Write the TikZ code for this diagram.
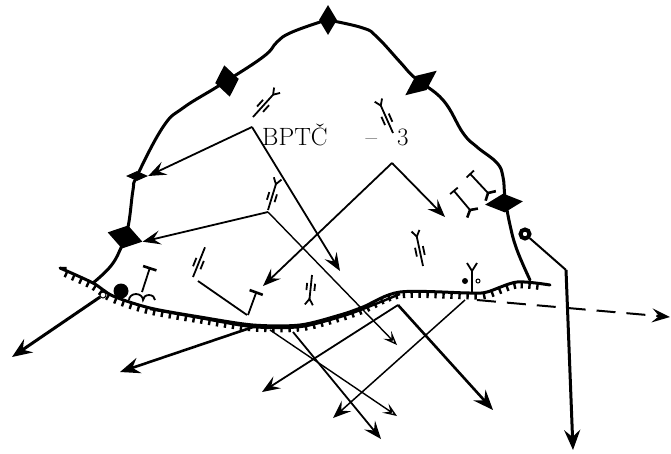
\documentclass[tikz,border=0pt]{standalone}
\usepackage{amsmath, amssymb}
\usetikzlibrary{arrows.meta, shapes.geometric, decorations.pathreplacing}
\tikzset{
  contour/.style={line width=3pt,line cap=round,line join=round},
  frontline/.style={line width=3pt,line cap=round},
  teeth/.style={line width=2.4pt,decorate,decoration={border,segment length=8pt,amplitude=6.5pt,angle=-90}},
  thrust/.style={line width=1.8pt,->,>={Stealth[length=18pt,width=14pt,inset=7pt]}},
  thrustopen/.style={line width=1.4pt,->,>={Stealth[open,length=14pt,width=11pt,inset=6pt]}},
  heavy/.style={line width=3pt,->,>={Stealth[length=20pt,width=16pt,inset=7pt]}},
  fortpt/.style={diamond,fill=black,inner sep=0pt},
  sym/.style={line width=1.8pt},
  pics/forksym/.style={code={
    \draw[sym] (0,0) -- (0,-#1);
    \draw[sym] (-4,-#1-6) -- (0,-#1) -- (4,-#1-6);
    \draw[sym] (-4,-0.35*#1) -- (-4,-0.65*#1);
    \draw[sym] (4,-0.35*#1) -- (4,-0.65*#1);
  }},
  pics/tsym/.style={code={
    \draw[sym] (0,0) -- (0,-#1);
    \draw[line width=2.6pt] (-7,-#1) -- (7,-#1);
  }},
  pics/ibeam/.style={code={
    \draw[sym] (0,0) -- (0,-#1);
    \draw[sym] (-5,-#1) -- (5,-#1);
    \draw[line width=2.6pt] (-7,4) -- (0,0) -- (7,4);
  }},
}
\begin{document}
\begin{tikzpicture}[x=1pt,y=-1pt]
  \useasboundingbox (0,0) rectangle (671,453);
  % Strongpoints on the perimeter
  \node[fortpt,minimum width=18pt,minimum height=30pt] (ptTop) at (328,20) {};
  \node[fortpt,minimum width=24pt,minimum height=32pt,rotate=10] (ptWest) at (227,81) {};
  \node[fortpt,minimum width=40pt,minimum height=18pt,rotate=38] (ptEast) at (421,83) {};
  \node[fortpt,minimum width=38pt,minimum height=19pt,rotate=5] (ptSouthEast) at (504,203) {};
  \node[fortpt,minimum width=36pt,minimum height=24pt,rotate=-15] (ptSouthWest) at (125,237) {};
  \node[fortpt,minimum width=22pt,minimum height=10pt] (ptStar) at (137,176) {};
  % Perimeter
  \draw[contour] plot[smooth,tension=0.7] coordinates
    {(93,283) (110,267) (120,250) (128,227) (133,190) (137,176) (163,127) (183,108) (220,85)
     (263,57) (277,42) (290,33) (320,22) (328,20)};
  \draw[contour] plot[smooth,tension=0.7] coordinates
    {(328,20) (363,28) (377,37) (400,62) (415,78) (443,100) (463,133) (477,147) (497,163) (503,177)
     (505,197) (510,225) (517,250) (530,280)};
  % Front line with teeth
  \draw[frontline] plot[smooth,tension=0.5] coordinates
    {(60,268) (93,283) (113,296) (150,308) (200,317) (253,325) (300,325) (340,315) (363,307)
     (400,292) (470,293) (487,292) (517,282) (550,285)};
  \draw[line width=2.4pt] plot[smooth,tension=0.5] coordinates
    {(150,309) (200,318) (253,327) (300,327) (340,317) (363,309) (400,294)};
  \draw[teeth] plot[smooth,tension=0.5] coordinates
    {(60,268) (93,283) (113,296) (150,308) (200,317) (253,325) (300,325) (340,315) (363,307)
     (400,292) (470,293) (487,292) (517,282) (550,285)};
  \node[circle,fill=black,minimum size=15pt,inner sep=0pt] (ptBall) at (121,291) {};
  \node[circle,draw,line width=1pt,fill=white,minimum size=6pt,inner sep=0pt] (ptRing) at (103,295) {};
  % Bends and tips
  \coordinate (apexA) at (252,127);
  \coordinate (apexB) at (268,212);
  \coordinate (apexC) at (392,163);
  \coordinate (apexD) at (398,305);
  \coordinate (apexE) at (566,270);
  \coordinate (tailA) at (198,281);
  \coordinate (tailB) at (247,315);
  \coordinate (tailC) at (253,327);
  \coordinate (tailD) at (270,330);
  \coordinate (tailE) at (293,332);
  \coordinate (tailF) at (465,300);
  \coordinate (tailG) at (477,300);
  \coordinate (tipA) at (340,271);
  \coordinate (tipB) at (397,345);
  \coordinate (tipC) at (263,286);
  \coordinate (tipD) at (445,217);
  \coordinate (tipE) at (262,392);
  \coordinate (tipF) at (493,410);
  \coordinate (tipG) at (333,418);
  \coordinate (tipH) at (397,416);
  \coordinate (tipI) at (381,439);
  \coordinate (tipJ) at (120,372);
  \coordinate (tipK) at (12,357);
  \coordinate (tipL) at (670,317);
  \coordinate (tipM) at (573,450);
  % Thrust arrows
  \draw[thrust] (apexA) -- (ptStar.east);
  \draw[thrust] (apexA) -- (tipA);
  \draw[thrust] (apexB) -- (ptSouthWest.east);
  \draw[thrustopen] (apexB) -- (tipB);
  \draw[thrust] (apexC) -- (tipC);
  \draw[thrust] (apexC) -- (tipD);
  \draw[line width=1.8pt] (tailA) -- (tailB);
  \draw[thrustopen] (tailD) -- (tipH);
  \draw[thrust] (tailE) -- (tipI);
  \draw[heavy,line width=2.6pt] (tailC) -- (tipJ);
  \draw[heavy] (ptRing) -- (tipK);
  \draw[thrust] (apexD) -- (tipE);
  \draw[heavy,line width=2.6pt] (apexD) -- (tipF);
  \draw[thrust,line width=1.5pt] (tailF) -- (tipG);
  \draw[thrust,dash pattern=on 19pt off 11pt,line width=2pt] (tailG) -- (tipL);
  % Observation post
  \node[circle,draw,line width=4pt,minimum size=9pt,inner sep=0pt] (ptPost) at (525,234) {};
  \draw[line width=2pt] (ptPost) -- (apexE);
  \draw[heavy] (apexE) -- (tipM);
  % Unit symbols
  \pic[rotate=-42] at (253,117) {forksym=30};
  \pic[rotate=-17] at (268,210) {forksym=27};
  \pic[rotate=24] at (393,133) {forksym=30};
  \pic[rotate=174] at (312,275) {forksym=24};
  \pic[rotate=12] at (423,266) {forksym=30};
  \draw[sym,rotate around={-22:(193,277)}] (193,277) -- (193,245);
  \draw[sym,rotate around={-22:(193,277)}] (189,267) -- (189,258) (197,267) -- (197,258);
  \draw[sym] (472,292) -- (472,271) (467,263) -- (472,271) -- (477,263);
  \node[circle,fill=black,minimum size=6pt,inner sep=0pt] (dotFilled) at (465,281) {};
  \node[circle,draw,line width=1pt,minimum size=4pt,inner sep=0pt] (dotOpen) at (478,281) {};
  \pic[rotate=-18] at (142,292) {tsym=25};
  \draw[sym] (129,300) arc (180:360:7 and 6) arc (180:360:6 and 5);
  \pic[rotate=-20] at (248,315) {tsym=24};
  \pic[rotate=40] at (470,210) {ibeam=25};
  \pic[rotate=43] at (488,193) {ibeam=26};
  % Title
  \node[anchor=base west,inner sep=0pt,font=\fontsize{25}{25}\selectfont] (lblTitle) at (262,145)
    {BPTČ\hspace{38pt}–\hspace{20pt}3};
\end{tikzpicture}
\end{document}
